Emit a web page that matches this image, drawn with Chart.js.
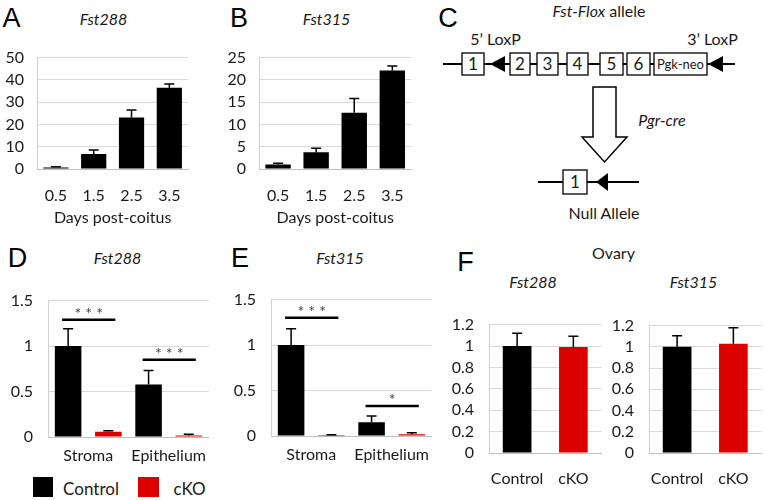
<!DOCTYPE html>
<html><head><meta charset="utf-8">
<script src="https://cdn.jsdelivr.net/npm/chart.js@4.4.1/dist/chart.umd.min.js"></script>
<style>
html,body{margin:0;padding:0;background:#fff;}
#wrap{position:relative;width:765px;height:500px;overflow:hidden;font-family:Lato,sans-serif;color:#000;background:#fff;}
.t{position:absolute;white-space:nowrap;line-height:1;transform:translate(-50%,-50%);}
.letter{font-family:"Liberation Sans",Arial,sans-serif;font-size:27px;}
canvas{position:absolute;}
</style></head><body><div id="wrap"></div>
<script>
// ---------- data ----------
const dayLabels = ['0.5', '1.5', '2.5', '3.5'];
const fst288Days = [0.7, 6.7, 23.1, 36.5];
const fst288DaysErr = [0.3, 1.8, 3.4, 1.6];
const fst315Days = [1.0, 3.75, 12.6, 22.1];
const fst315DaysErr = [0.3, 0.9, 3.2, 1.0];

const tissueLabels = ['Stroma', 'Epithelium'];
const uterus288Control = [1.0, 0.576];
const uterus288ControlErr = [0.19, 0.155];
const uterus288cKO = [0.057, 0.017];
const uterus288cKOErr = [0.013, 0.013];
const uterus315Control = [1.0, 0.15];
const uterus315ControlErr = [0.18, 0.07];
const uterus315cKO = [0.01, 0.02];
const uterus315cKOErr = [0.004, 0.015];
const sig288Level = [1.29, 0.85];
const sig288Text = ['***', '***'];
const sig315Level = [1.30, 0.33];
const sig315Text = ['***', '*'];

const genotypeLabels = ['Control', 'cKO'];
const ovary288 = [1.0, 0.99];
const ovary288Err = [0.12, 0.10];
const ovary315 = [1.0, 1.03];
const ovary315Err = [0.105, 0.15];

const BLACK = '#000000', RED = '#dc0000';
const FONT = 'Lato';
const wrap = document.getElementById('wrap');

// ---------- plugins ----------
const errPlugin = {
  id: 'errBars',
  afterDatasetsDraw(chart) {
    const ctx = chart.ctx, ys = chart.scales.y;
    chart.data.datasets.forEach((ds, i) => {
      const meta = chart.getDatasetMeta(i);
      meta.data.forEach((bar, j) => {
        const yt = ys.getPixelForValue(ds.data[j] + ds.errors[j]);
        ctx.save();
        ctx.strokeStyle = '#000'; ctx.lineWidth = 1.5;
        ctx.beginPath();
        ctx.moveTo(bar.x, bar.y); ctx.lineTo(bar.x, yt);
        ctx.moveTo(bar.x - 5, yt); ctx.lineTo(bar.x + 5, yt);
        ctx.stroke(); ctx.restore();
      });
    });
  }
};
const sigPlugin = {
  id: 'sig',
  afterDatasetsDraw(chart, args, opts) {
    if (!opts || !opts.levels) return;
    const ctx = chart.ctx, ys = chart.scales.y;
    const m0 = chart.getDatasetMeta(0), m1 = chart.getDatasetMeta(1);
    opts.levels.forEach((lv, j) => {
      const x0 = m0.data[j].x - 6, x1 = m1.data[j].x + 7;
      const yy = ys.getPixelForValue(lv);
      ctx.save();
      ctx.strokeStyle = '#000'; ctx.lineWidth = 2.5;
      ctx.beginPath(); ctx.moveTo(x0, yy); ctx.lineTo(x1, yy); ctx.stroke();
      ctx.fillStyle = '#404040'; ctx.font = '16px ' + FONT;
      ctx.textAlign = 'center'; ctx.textBaseline = 'middle';
      ctx.fillText(opts.texts[j].split('').join(' '), (x0 + x1) / 2, yy - 6);
      ctx.restore();
    });
  }
};

const fmt = v => String(+Number(v).toFixed(2));

function makeBar(o) {
  const cv = document.createElement('canvas');
  cv.width = o.w; cv.height = o.h;
  cv.style.left = o.x + 'px'; cv.style.top = o.y + 'px';
  cv.style.width = o.w + 'px'; cv.style.height = o.h + 'px';
  wrap.appendChild(cv);
  return new Chart(cv, {
    type: 'bar',
    data: { labels: o.labels, datasets: o.datasets },
    options: {
      responsive: false, animation: false, devicePixelRatio: 1,
      layout: { padding: { top: 12, right: o.padR, bottom: 0, left: 0 } },
      plugins: { legend: { display: false }, tooltip: { enabled: false }, sig: o.sig || {} },
      scales: {
        x: {
          grid: { display: false, drawTicks: false },
          border: { display: true, color: '#bfbfbf', width: 1 },
          ticks: { font: { family: FONT, size: 16 }, color: '#1a1a1a', padding: o.xPad, maxRotation: 0, autoSkip: false },
          title: o.xTitle ? { display: true, text: o.xTitle, font: { family: FONT, size: 16 }, color: '#1a1a1a', padding: { top: 0, bottom: 1 } } : { display: false },
          afterFit: s => { s.height = o.xH; }
        },
        y: {
          min: 0, max: o.max,
          ticks: { stepSize: o.step, autoSkip: false, callback: v => fmt(v), font: { family: FONT, size: 16 }, color: '#1a1a1a', padding: o.yPad },
          grid: { color: '#d9d9d9', drawTicks: false, lineWidth: 1 },
          border: { display: true, color: '#cfcfcf', width: 1 },
          afterFit: s => { s.width = o.yW; }
        }
      }
    },
    plugins: [errPlugin, sigPlugin]
  });
}

// A
makeBar({ x: 0, y: 35, w: 198, h: 193, padR: 4, yW: 37, yPad: 13, xH: 59, xPad: 17, xTitle: 'Days post-coitus', max: 50, step: 10,
  labels: dayLabels,
  datasets: [{ data: fst288Days, errors: fst288DaysErr, backgroundColor: BLACK, categoryPercentage: 1, barPercentage: 0.667 }] });
// B
makeBar({ x: 222, y: 35, w: 199, h: 193, padR: 4, yW: 37, yPad: 13, xH: 59, xPad: 17, xTitle: 'Days post-coitus', max: 25, step: 5,
  labels: dayLabels,
  datasets: [{ data: fst315Days, errors: fst315DaysErr, backgroundColor: BLACK, categoryPercentage: 1, barPercentage: 0.667 }] });
// D
makeBar({ x: 0, y: 276, w: 216, h: 194, padR: 4, yW: 48, yPad: 15, xH: 33, xPad: 9, max: 1.5, step: 0.5,
  labels: tissueLabels, sig: { levels: sig288Level, texts: sig288Text },
  datasets: [
    { data: uterus288Control, errors: uterus288ControlErr, backgroundColor: BLACK, categoryPercentage: 1, barPercentage: 0.66 },
    { data: uterus288cKO, errors: uterus288cKOErr, backgroundColor: RED, categoryPercentage: 1, barPercentage: 0.66 }] });
// E
makeBar({ x: 223, y: 275, w: 216, h: 194, padR: 4, yW: 48, yPad: 15, xH: 33, xPad: 9, max: 1.5, step: 0.5,
  labels: tissueLabels, sig: { levels: sig315Level, texts: sig315Text },
  datasets: [
    { data: uterus315Control, errors: uterus315ControlErr, backgroundColor: BLACK, categoryPercentage: 1, barPercentage: 0.66 },
    { data: uterus315cKO, errors: uterus315cKOErr, backgroundColor: RED, categoryPercentage: 1, barPercentage: 0.66 }] });
// F left
makeBar({ x: 449, y: 300, w: 156, h: 195, padR: 2, yW: 40, yPad: 15, xH: 42, xPad: 16, max: 1.2, step: 0.2,
  labels: genotypeLabels,
  datasets: [{ data: ovary288, errors: ovary288Err, backgroundColor: [BLACK, RED], categoryPercentage: 1, barPercentage: 0.51 }] });
// F right
makeBar({ x: 609, y: 301, w: 156, h: 194, padR: 2, yW: 40, yPad: 15, xH: 42, xPad: 16, max: 1.2, step: 0.2,
  labels: genotypeLabels,
  datasets: [{ data: ovary315, errors: ovary315Err, backgroundColor: [BLACK, RED], categoryPercentage: 1, barPercentage: 0.51 }] });

// ---------- text ----------
function txt(s, cx, cy, css, cls) {
  const d = document.createElement('div');
  d.className = 't' + (cls ? ' ' + cls : '');
  d.innerHTML = s;
  d.style.left = cx + 'px'; d.style.top = cy + 'px';
  if (css) d.style.cssText += css;
  wrap.appendChild(d);
}
txt('A', 11.5, 17.5, '', 'letter');
txt('B', 239, 17.5, '', 'letter');
txt('C', 448, 18, '', 'letter');
txt('D', 17.5, 257.5, '', 'letter');
txt('E', 240, 257.5, '', 'letter');
txt('F', 465.5, 262, '', 'letter');
const it = 'font-size:16px;font-style:italic;color:#1a1a1a;';
txt('Fst288', 103.5, 19, it);
txt('Fst315', 326.5, 19, it);
txt('Fst288', 117.5, 258, it);
txt('Fst315', 340, 258, it);
txt('Fst288', 533, 282, it);
txt('Fst315', 693.5, 282, it);
txt('Ovary', 613.5, 253, 'font-size:16px;color:#1a1a1a;');
// legend
const sq = (x, y, w, h, c) => { const d = document.createElement('div'); d.style.cssText = `position:absolute;left:${x}px;top:${y}px;width:${w}px;height:${h}px;background:${c}`; wrap.appendChild(d); };
sq(33, 477, 20, 20, BLACK);
sq(138, 477, 21, 20, RED);
txt('Control', 91, 488, 'font-size:17px;color:#1a1a1a;');
txt('cKO', 189.5, 488, 'font-size:17px;color:#1a1a1a;');
</script>
<svg style="position:absolute;left:430px;top:0" width="335" height="230" viewBox="430 0 335 230" xmlns="http://www.w3.org/2000/svg" font-family="Lato">
  <text x="599" y="17" text-anchor="middle" font-size="16" fill="#1a1a1a"><tspan font-style="italic">Fst-Flox</tspan> allele</text>
  <text x="495.5" y="45" text-anchor="middle" font-size="16" fill="#1a1a1a">5’ LoxP</text>
  <text x="712.5" y="45" text-anchor="middle" font-size="16" fill="#1a1a1a">3’ LoxP</text>
  <line x1="443" y1="64" x2="735" y2="64" stroke="#000" stroke-width="2.2"/>
  <g stroke="#000" fill="#fff" stroke-width="1.3">
    <rect x="462" y="53" width="22" height="22"/>
    <rect x="510" y="53" width="20" height="22"/>
    <rect x="537" y="53" width="21" height="22"/>
    <rect x="567" y="53" width="21" height="22"/>
    <rect x="600" y="53" width="23" height="22"/>
    <rect x="627" y="53" width="23" height="22"/>
    <rect x="654" y="53" width="53" height="22"/>
  </g>
  <g font-size="17" text-anchor="middle" fill="#1a1a1a">
    <text x="473" y="70">1</text>
    <text x="520" y="70">2</text>
    <text x="547.5" y="70">3</text>
    <text x="577.5" y="70">4</text>
    <text x="611.5" y="70">5</text>
    <text x="638.5" y="70">6</text>
  </g>
  <text x="680.5" y="69" text-anchor="middle" font-size="13" fill="#1a1a1a">Pgk-neo</text>
  <polygon points="490,64 505,56 505,72" fill="#000"/>
  <polygon points="708,64 723,56 723,72" fill="#000"/>
  <polygon points="593,87 616,87 616,137 627,137 604.5,162 582,137 593,137" fill="#fff" stroke="#000" stroke-width="1.5"/>
  <text x="662" y="126" text-anchor="middle" font-size="16" font-style="italic" fill="#1a1a1a">Pgr-cre</text>
  <line x1="538" y1="182" x2="639" y2="182" stroke="#000" stroke-width="2.2"/>
  <rect x="563" y="170" width="24" height="24" fill="#fff" stroke="#000" stroke-width="1.3"/>
  <text x="575" y="188" text-anchor="middle" font-size="17" fill="#1a1a1a">1</text>
  <polygon points="596,182 608,173 608,191" fill="#000"/>
  <text x="604" y="219" text-anchor="middle" font-size="16" fill="#1a1a1a">Null Allele</text>
</svg>
</div>
</body></html>
